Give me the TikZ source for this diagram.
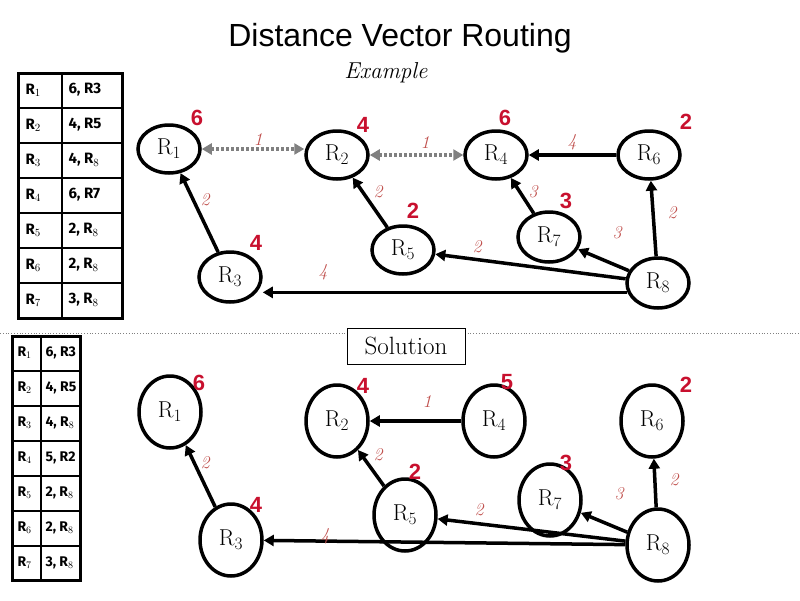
\documentclass[tikz,border=0pt]{standalone}
\usepackage{fontspec}
\setsansfont{Liberation Sans}
\newfontfamily\tabfont{Fira Sans}
\usetikzlibrary{arrows.meta,shapes.geometric}
\definecolor{redn}{HTML}{C8102E}
\definecolor{orw}{HTML}{C0504D}
\begin{document}
\begin{tikzpicture}[x=1pt,y=-1pt,
 rnode/.style={draw,line width=3.5pt,ellipse,minimum width=#1,font=\fontsize{23}{25}\selectfont,inner sep=0pt},
 rnode/.default=62pt,
 arr/.style={line width=3.5pt,-{Triangle[length=10pt,width=11pt]}},
 dot/.style={gray,line width=3.2pt,dash pattern=on 3pt off 2pt,{Triangle[length=10pt,width=11pt]}-{Triangle[length=10pt,width=11pt]}},
 dist/.style={text=redn,font=\sffamily\bfseries\fontsize{22}{24}\selectfont},
 wt/.style={text=orw,font=\itshape\fontsize{18}{20}\selectfont},
 cell/.style={font=\tabfont\bfseries\fontsize{15}{17}\selectfont,anchor=west}]
\useasboundingbox (0,0) rectangle (800,600);
\node[font=\sffamily\fontsize{32}{36}\selectfont] (title) at (400,38) {Distance Vector Routing};
\node[font=\itshape\fontsize{23}{25}\selectfont] (ex) at (386,73) {Example};
% separator
\draw[gray,dotted,line width=0.8pt] (0,333) -- (800,333);
\node[draw,font=\fontsize{25}{27}\selectfont,inner sep=3pt,minimum width=118pt,minimum height=36pt,fill=white] (sol) at (406,346) {Solution};
% top table
\draw[line width=3pt] (18,73) rectangle (122,318);
\draw[line width=2pt] (62,73) -- (62,318);
\foreach \i in {1,...,6} \draw[line width=2pt] (18,73+35*\i) -- (122,73+35*\i);
\foreach \i/\a/\b in {1/{6, R3}/1,2/{4, R5}/2,3/{4, R$_8$}/3,4/{6, R7}/4,5/{2, R$_8$}/5,6/{2, R$_8$}/6,7/{3, R$_8$}/7}{
 \node[cell] at (22,55+35*\i) {R$_{\b}$};
 \node[cell] at (65,55+35*\i) {\a};}
% bottom table
\draw[line width=3pt] (12,336) rectangle (80,580);
\draw[line width=2pt] (41,336) -- (41,580);
\foreach \i in {1,...,6} \draw[line width=2pt] (12,336+35*\i) -- (80,336+35*\i);
\foreach \i/\a/\b in {1/{6, R3}/1,2/{4, R5}/2,3/{4, R$_8$}/3,4/{5, R2}/4,5/{2, R$_8$}/5,6/{2, R$_8$}/6,7/{3, R$_8$}/7}{
 \node[cell,font=\tabfont\bfseries\fontsize{14}{16}\selectfont] at (14,318+35*\i) {R$_{\b}$};
 \node[cell,font=\tabfont\bfseries\fontsize{14}{16}\selectfont] at (42,318+35*\i) {\a};}
% top graph
\node[rnode,minimum height=48pt] (a1) at (169,149) {R$_1$};
\node[rnode,minimum height=48pt] (a2) at (337,155) {R$_2$};
\node[rnode,minimum height=48pt] (a4) at (496,155) {R$_4$};
\node[rnode,minimum height=48pt] (a6) at (649,155) {R$_6$};
\node[rnode,minimum height=48pt] (a5) at (403,250) {R$_5$};
\node[rnode,minimum height=50pt] (a7) at (549,237) {R$_7$};
\node[rnode,minimum height=50pt] (a8) at (658,283) {R$_8$};
\node[rnode,minimum height=50pt] (a3) at (230,277) {R$_3$};
\draw[dot] (a1.east) -- (a2.west |- a1.east);
\draw[dot] (a2.east) -- (a4.west);
\draw[arr] (a6) -- (a4);
\draw[arr] (a7) -- (a4);
\draw[arr] (a8) -- (a6);
\draw[arr] (a8) -- (a7);
\draw[arr] (a8) -- (a5);
\draw[arr] (a8.197) -- (a3.east |- a8.197);
\draw[arr] (a3) -- (a1);
\draw[arr] (a5) -- (a2);
\foreach \p/\t in {{(197,118)}/6,{(363,125)}/4,{(505,118)}/6,{(686,122)}/2,{(413,211)}/2,{(566,201)}/3,{(256,243)}/4}
 \node[dist] at \p {\t};
\foreach \p/\t in {{(258,140)}/1,{(425,143)}/1,{(572,142)}/4,{(205,200)}/2,{(378,192)}/2,{(533,192)}/3,{(617,233)}/3,{(672,213)}/2,{(477,247)}/2,{(323,272)}/4}
 \node[wt] at \p {\t};
% bottom graph
\node[rnode,minimum height=72pt] (b1) at (170,412) {R$_1$};
\node[rnode,minimum height=72pt] (b2) at (337,421) {R$_2$};
\node[rnode,minimum height=72pt] (b4) at (494,421) {R$_4$};
\node[rnode,minimum height=72pt] (b6) at (652,421) {R$_6$};
\node[rnode,minimum height=72pt] (b5) at (405,515) {R$_5$};
\node[rnode,minimum height=72pt] (b7) at (550,500) {R$_7$};
\node[rnode,minimum height=72pt] (b8) at (658,545) {R$_8$};
\node[rnode,minimum height=72pt] (b3) at (231,540) {R$_3$};
\draw[arr] (b3) -- (b1);
\draw[arr] (b5) -- (b2);
\draw[arr] (b4) -- (b2);
\draw[arr] (b8) -- (b6);
\draw[arr] (b8) -- (b7);
\draw[arr] (b8) -- (b5);
\draw[arr] (b8) -- (b3);
\foreach \p/\t in {{(199,383)}/6,{(363,386)}/4,{(507,382)}/5,{(686,385)}/2,{(415,472)}/2,{(566,463)}/3,{(256,505)}/4}
 \node[dist] at \p {\t};
\foreach \p/\t in {{(427,402)}/1,{(205,463)}/2,{(378,455)}/2,{(479,510)}/2,{(619,494)}/3,{(674,480)}/2,{(325,536)}/4}
 \node[wt] at \p {\t};
\end{tikzpicture}
\end{document}
